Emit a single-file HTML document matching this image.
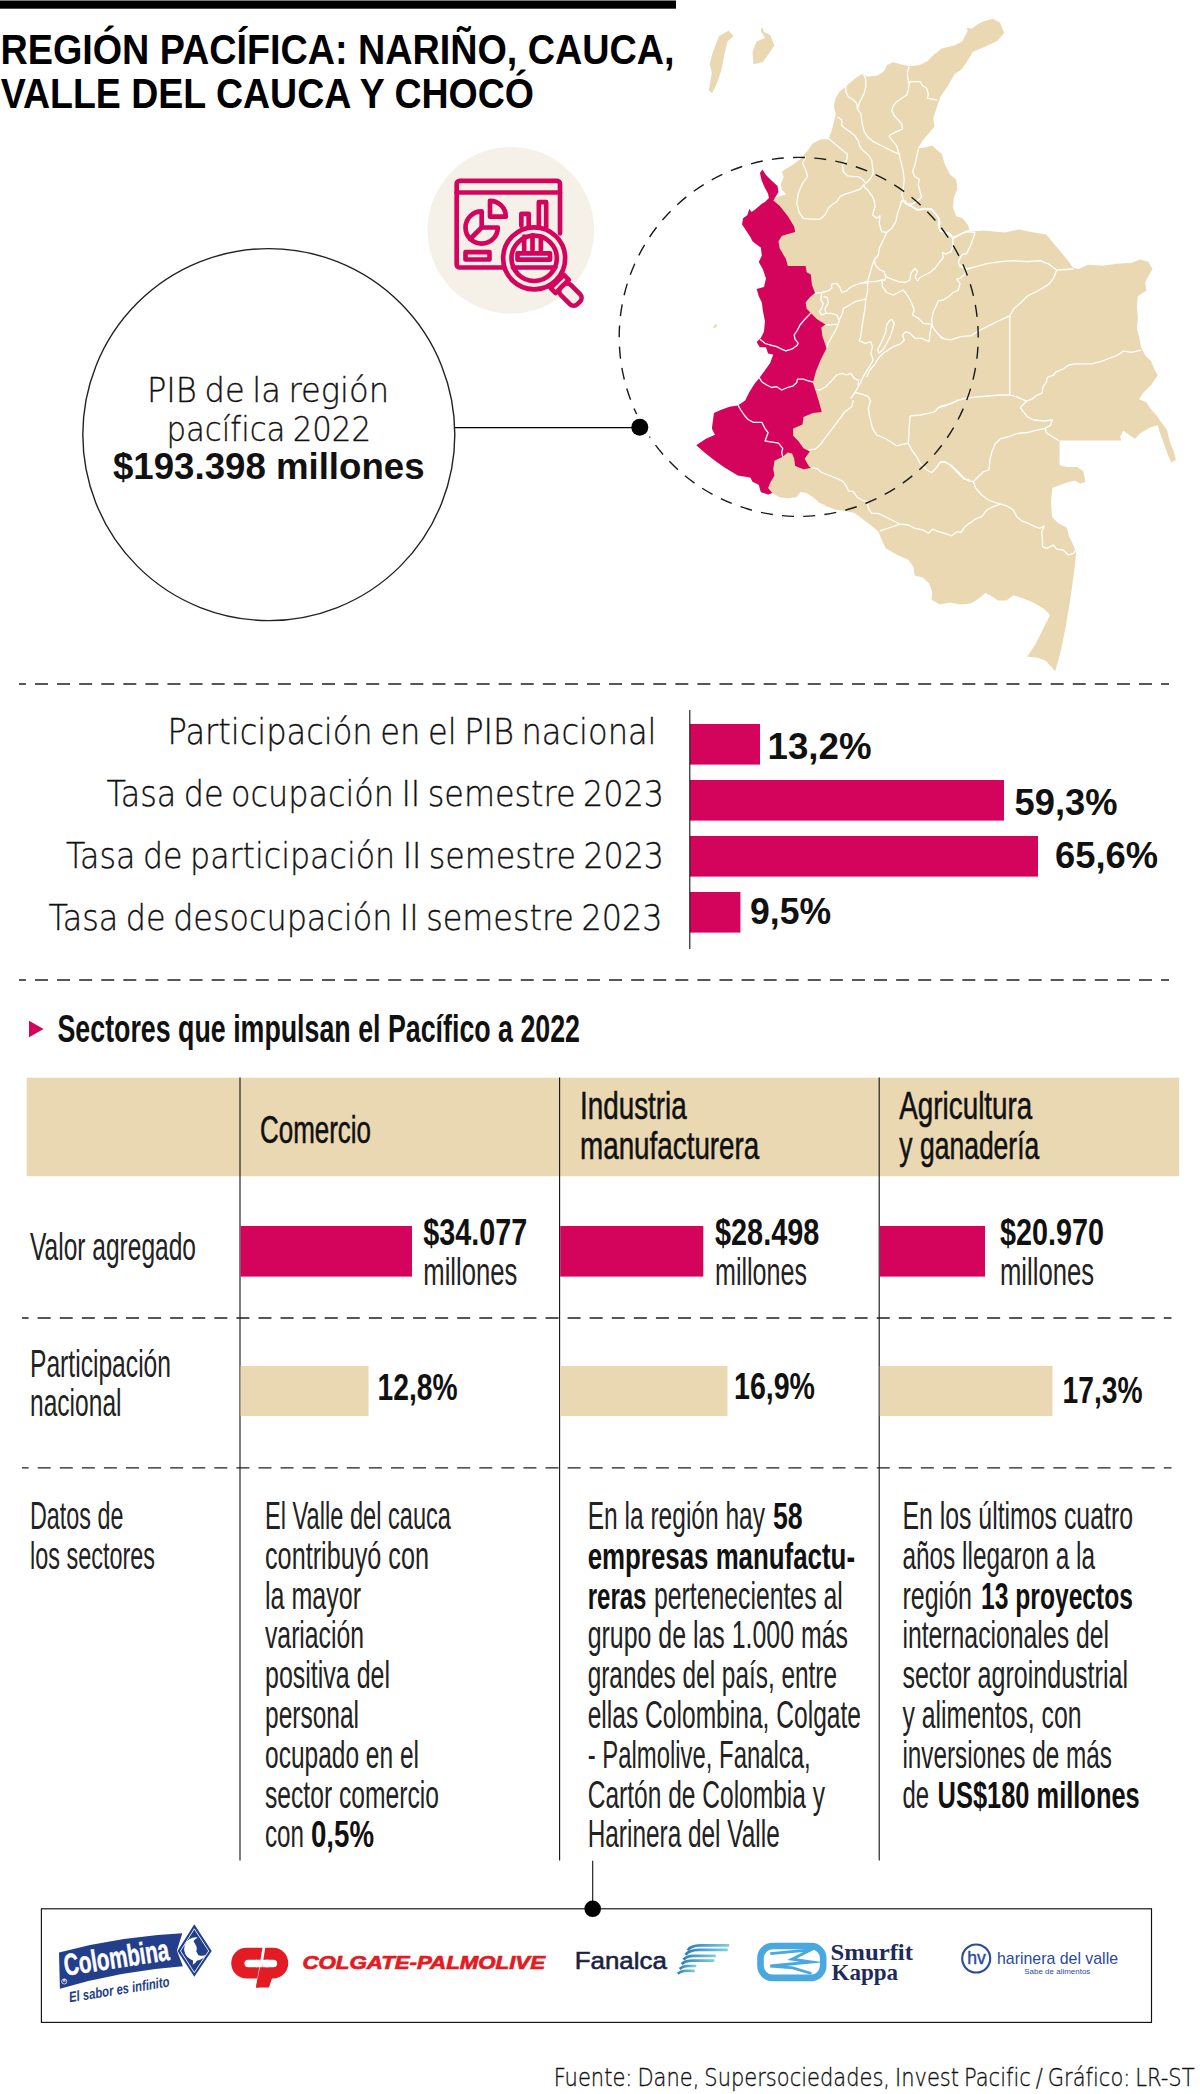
<!DOCTYPE html>
<html lang="es"><head><meta charset="utf-8"><title>Región Pacífica</title>
<style>html,body{margin:0;padding:0;background:#fff}svg{display:block}text{white-space:pre}</style></head>
<body>
<svg width="1200" height="2094" viewBox="0 0 1200 2094">
<rect width="1200" height="2094" fill="#fff"/>
<rect x="0" y="0.5" width="676" height="8.2" fill="#000"/>
<text x="0.5" y="64.3" font-size="42" font-family="Liberation Sans, sans-serif" font-weight="bold" fill="#000" textLength="674.0" lengthAdjust="spacingAndGlyphs" >REGIÓN PACÍFICA: NARIÑO, CAUCA,</text>
<text x="0.7" y="108.4" font-size="42" font-family="Liberation Sans, sans-serif" font-weight="bold" fill="#000" textLength="533.3" lengthAdjust="spacingAndGlyphs" >VALLE DEL CAUCA Y CHOCÓ</text>
<polygon points="728.5,30.8 733.8,36.0 727.5,41.3 724.4,54.8 721.3,70.4 717.0,83.0 711.9,93.3 708.8,90.2 711.9,72.5 709.8,64.2 712.9,51.7 719.2,36.0" fill="#e9d8b2"/>
<polygon points="761.9,26.7 764.0,31.9 770.2,35.0 774.4,45.4 768.1,54.8 762.9,62.1 753.5,64.2 752.5,51.7 756.7,41.3 765.0,38.1 760.8,30.8" fill="#e9d8b2"/>
<ellipse cx="715.3" cy="326.2" rx="2.2" ry="1.2" transform="rotate(-45 715.3 326.2)" fill="#e9d8b2"/>
<polygon points="774.4,198.5 779.6,196.0 786.3,194.4 781.7,189.6 780.8,184.0 783.8,176.7 781.7,172.1 784.8,169.4 792.1,165.2 800.4,159.0 806.7,151.7 812.9,143.3 821.3,139.2 828.5,139.2 831.7,130.8 833.8,122.5 835.8,114.2 833.8,105.8 835.8,97.5 840.0,91.3 845.2,87.1 854.6,78.8 862.9,73.5 867.1,76.7 877.5,75.6 883.8,71.5 886.9,65.2 893.1,62.1 900.4,64.2 908.8,66.3 919.2,65.2 927.5,61.0 933.8,54.8 941.7,48.5 954.2,45.4 962.5,41.3 967.7,30.8 966.7,27.7 971.9,28.8 977.1,24.6 983.3,21.5 992.7,18.8 1000.0,22.5 1004.2,32.9 996.9,41.3 983.3,47.5 972.9,51.7 966.7,62.1 961.5,69.4 954.2,74.6 947.9,86.0 940.6,96.5 936.5,107.9 933.3,118.3 934.4,126.7 929.2,132.9 922.9,140.2 917.7,148.5 925.0,147.5 932.3,145.4 936.5,149.6 941.7,153.8 944.8,164.2 950.0,174.6 956.3,179.8 957.3,189.2 953.8,197.5 953.1,207.9 956.3,216.3 962.5,218.3 967.7,224.6 970.2,231.5 983.8,230.4 1004.6,232.5 1019.2,229.4 1033.8,232.5 1046.3,234.6 1056.7,247.1 1067.1,259.6 1073.3,267.9 1078.5,269.0 1087.9,264.8 1102.5,265.8 1117.1,263.8 1131.7,262.7 1140.0,259.6 1148.3,261.7 1152.5,269.0 1148.3,276.3 1145.2,282.5 1146.3,290.8 1137.9,296.0 1136.9,307.5 1137.9,317.9 1136.9,328.3 1139.0,336.7 1141.0,347.1 1145.2,355.4 1151.5,361.7 1154.6,370.0 1157.7,375.2 1151.5,384.6 1143.1,392.9 1139.0,399.2 1146.3,402.3 1150.4,408.5 1156.7,415.8 1161.9,423.1 1167.0,430.0 1169.5,440.8 1173.5,451.3 1176.0,459.6 1171.3,462.7 1168.1,455.4 1164.0,444.0 1159.8,432.5 1157.7,425.2 1150.4,427.3 1140.0,433.5 1134.8,438.8 1128.5,434.6 1123.3,430.4 1120.2,436.7 1121.3,440.4 1059.6,440.6 1059.4,465.0 1066.7,467.1 1077.1,467.1 1083.3,471.3 1085.4,481.7 1080.2,483.8 1075.0,480.6 1066.7,482.7 1058.3,485.8 1052.1,487.9 1051.0,502.5 1052.1,517.1 1058.3,523.3 1066.7,527.5 1068.8,535.8 1072.9,544.2 1076.0,552.5 1075.0,565.0 1070.8,596.3 1065.6,627.5 1060.4,652.5 1055.2,671.3 1045.8,660.8 1037.5,657.7 1027.1,656.7 1035.4,644.2 1043.8,627.5 1050.0,615.0 1043.8,608.8 1033.3,602.5 1022.9,598.3 1013.5,595.2 1006.3,600.4 997.9,600.4 991.7,596.3 985.4,593.1 979.2,598.3 970.8,603.5 960.4,604.6 950.0,602.5 939.6,604.6 931.3,599.4 932.3,592.1 929.2,583.8 922.9,577.5 914.6,575.4 913.5,567.1 908.3,559.8 896.3,554.6 885.8,548.3 881.7,540.0 878.5,531.7 871.3,525.4 862.9,519.2 854.6,512.9 844.2,510.8 835.8,509.8 827.5,506.7 819.2,502.5 812.9,497.3 806.7,493.1 800.4,492.1 796.3,497.3 787.9,498.3 779.6,497.3 772.3,493.1 772.3,493.1 768.1,494.6 760.8,492.1 758.8,484.8 752.5,481.7 750.4,477.5 737.9,475.4 725.4,468.1 715.0,460.8 704.6,452.5 696.3,445.2 705.6,439.0 715.0,434.8 711.9,428.5 712.9,421.3 714.0,412.9 721.3,409.8 729.6,406.7 737.9,405.6 745.2,400.4 749.4,392.1 754.6,383.8 759.8,377.5 765.0,370.2 770.2,362.9 773.3,354.6 768.1,353.5 766.0,347.3 759.8,347.3 756.7,342.1 760.8,337.9 764.0,331.7 765.0,321.3 762.9,310.8 761.9,302.5 758.8,296.3 756.7,289.0 764.0,286.9 766.0,278.5 762.9,269.2 758.8,261.9 761.9,255.6 760.8,247.5 756.7,244.4 752.5,241.3 750.4,237.1 746.3,230.8 742.1,224.6 743.1,218.3 747.3,215.2 749.4,209.0 751.5,212.1 754.6,210.0 761.9,203.8 765.0,202.0 769.0,198.0 768.0,193.5 764.5,187.0 761.5,180.0 760.0,173.0 762.4,169.6" fill="#e9d8b2"/>
<polyline points="805.8,156.7 802.5,163.3 805.8,170.0 807.5,176.7 802.5,183.3 798.3,193.3 796.7,203.3 799.2,212.5 803.3,218.3 811.7,219.2 820.0,219.2 825.0,215.0 828.3,208.3 832.5,204.2 836.7,201.7 840.0,196.7 845.0,194.2 853.3,191.7 860.0,189.2 864.2,184.2" fill="none" stroke="#fff" stroke-width="1.3" stroke-linejoin="round"/>
<polyline points="828.3,138.3 833.3,142.5 838.3,146.7 843.3,150.8 847.5,154.2 846.7,160.0 842.5,165.0 843.3,171.7 847.5,175.8 853.3,176.7 858.3,176.7 862.5,179.2 865.8,183.3" fill="none" stroke="#fff" stroke-width="1.3" stroke-linejoin="round"/>
<polyline points="837.5,116.7 841.7,120.0 841.7,125.8 845.0,128.3 850.0,131.7 855.0,135.8 858.3,140.8 860.0,146.7 863.3,150.8 868.3,155.0 871.7,160.0 872.5,166.7 873.3,173.3 870.0,179.2 865.8,183.3" fill="none" stroke="#fff" stroke-width="1.3" stroke-linejoin="round"/>
<polyline points="845.8,85.8 845.8,91.7 848.3,96.7 853.3,100.0 856.7,103.3 857.5,109.2 860.8,113.3 861.7,120.0 862.5,125.0 864.2,131.7 867.5,136.7 873.3,141.7 880.0,145.0 886.7,148.3 893.3,151.7 899.2,154.2 900.0,158.3 901.7,165.0 903.3,171.7 904.2,180.0 903.3,188.3 901.7,195.0 903.3,200.0 905.0,203.3" fill="none" stroke="#fff" stroke-width="1.3" stroke-linejoin="round"/>
<polyline points="863.3,73.3 865.8,79.2 865.8,86.7 864.2,93.3 861.7,98.3 859.2,103.3 857.5,109.2" fill="none" stroke="#fff" stroke-width="1.3" stroke-linejoin="round"/>
<polyline points="909.2,66.7 907.5,71.7 907.5,77.5 909.2,83.3 908.3,90.0 906.7,95.0 901.7,98.3 896.7,101.7 893.3,105.8 891.7,110.8 894.2,115.8 898.3,120.0 901.7,124.2 902.5,129.2 896.7,131.7 890.0,135.0 889.2,136.7 892.5,140.8 896.7,145.8 899.2,154.2" fill="none" stroke="#fff" stroke-width="1.3" stroke-linejoin="round"/>
<polyline points="907.5,82.5 913.3,81.7 920.0,81.7 922.5,85.8 926.7,88.3 928.3,94.2 927.5,98.3 932.5,99.2 936.7,100.0" fill="none" stroke="#fff" stroke-width="1.3" stroke-linejoin="round"/>
<polyline points="918.3,149.2 916.7,156.7 915.0,165.0 912.5,171.7 915.0,176.7 919.2,179.2 918.3,185.0 920.0,191.7 921.7,196.7 916.7,201.7 911.7,204.2 905.0,203.3" fill="none" stroke="#fff" stroke-width="1.3" stroke-linejoin="round"/>
<polyline points="905.0,203.3 911.7,206.7 916.7,210.0 925.0,208.3 931.7,210.0 936.7,215.0 940.0,221.7 939.2,228.3 943.3,231.7 950.0,233.3 953.3,238.3 952.5,248.3" fill="none" stroke="#fff" stroke-width="1.3" stroke-linejoin="round"/>
<polyline points="953.3,238.3 960.0,235.0 965.0,231.7 970.0,230.0" fill="none" stroke="#fff" stroke-width="1.3" stroke-linejoin="round"/>
<polyline points="864.2,184.2 864.2,186.7 868.3,190.8 872.5,196.7 875.0,202.5" fill="none" stroke="#fff" stroke-width="1.3" stroke-linejoin="round"/>
<polyline points="903.3,200.0 902.0,202.5" fill="none" stroke="#fff" stroke-width="1.3" stroke-linejoin="round"/>
<polyline points="959.8,264.8 967.1,269.0 975.4,266.9 985.8,263.8 1000.4,261.7 1012.9,260.6 1027.5,261.7 1040.0,260.6 1048.3,263.8 1056.7,270.0 1073.3,269.0" fill="none" stroke="#fff" stroke-width="1.3" stroke-linejoin="round"/>
<polyline points="1056.7,270.0 1053.5,278.3 1048.3,284.6 1037.9,290.8 1027.5,296.0 1021.2,302.3 1014.0,308.5 1009.8,315.8 998.3,321.0 987.9,326.2 977.5,331.5 971.2,335.6 960.8,336.7 950.4,339.8 944.2,338.8 940.0,336.7" fill="none" stroke="#fff" stroke-width="1.3" stroke-linejoin="round"/>
<polyline points="1009.8,315.8 1009.8,395.0" fill="none" stroke="#fff" stroke-width="1.3" stroke-linejoin="round"/>
<polyline points="1141.0,350.2 1131.7,352.3 1123.3,351.2 1117.1,355.4 1108.8,358.5 1100.4,361.7 1092.1,363.8 1083.8,363.8 1075.4,363.8 1069.2,364.8 1062.9,369.0 1055.6,372.1 1053.5,375.2 1047.3,377.3 1046.2,382.5 1043.1,386.7 1042.1,392.9 1035.8,396.0 1031.7,399.2 1026.5,401.2 1020.2,407.5" fill="none" stroke="#fff" stroke-width="1.3" stroke-linejoin="round"/>
<polyline points="940.0,406.5 948.3,404.4 958.8,400.2 966.0,398.1 975.4,397.1 987.9,396.0 1000.4,395.0 1009.8,395.0 1017.1,397.1 1026.5,401.2" fill="none" stroke="#fff" stroke-width="1.3" stroke-linejoin="round"/>
<polyline points="1020.2,407.5 1023.3,411.7 1027.5,416.9 1033.8,420.0 1044.2,421.0 1052.5,420.0 1050.4,425.2 1045.2,428.3 1046.2,432.5 1052.5,436.7 1058.8,440.8" fill="none" stroke="#fff" stroke-width="1.3" stroke-linejoin="round"/>
<polyline points="1045.2,428.3 1035.8,430.4 1027.5,432.5 1017.1,433.5 1008.8,436.7 1000.4,438.8 995.2,444.0 992.1,451.2 990.0,459.6 989.0,470.0" fill="none" stroke="#fff" stroke-width="1.3" stroke-linejoin="round"/>
<polyline points="943.3,339.2 937.5,333.3 932.5,326.7 931.7,320.0" fill="none" stroke="#fff" stroke-width="1.3" stroke-linejoin="round"/>
<polyline points="966.7,268.3 964.2,275.0 960.0,278.3 956.7,279.2 960.0,283.3 958.3,290.0 953.3,292.5 948.3,296.7 943.3,300.0 938.3,300.8 935.8,306.7 933.3,311.7 931.7,320.0" fill="none" stroke="#fff" stroke-width="1.3" stroke-linejoin="round"/>
<polyline points="975.0,232.5 973.3,238.3 970.0,246.7 966.7,253.3 961.7,255.0 958.3,261.7 960.0,266.7 966.7,268.3" fill="none" stroke="#fff" stroke-width="1.3" stroke-linejoin="round"/>
<polyline points="905.0,200.0 906.7,204.2 913.3,206.7 918.3,210.0 925.0,209.2 931.7,208.3 935.0,213.3 939.2,218.3 938.3,225.0 940.0,230.8 946.7,233.3 952.5,237.5 956.7,235.8 961.7,233.3 968.3,231.7 975.0,232.5" fill="none" stroke="#fff" stroke-width="1.3" stroke-linejoin="round"/>
<polyline points="952.5,237.5 953.3,245.0 950.8,251.7 945.8,254.2 942.5,252.5 943.3,257.5 940.0,261.7 935.0,268.3 930.0,272.5 925.0,275.0 920.0,277.5 917.5,280.8 915.0,276.7 917.5,271.7 915.0,268.3 910.8,273.3 910.0,280.0 905.0,282.5 898.3,281.7 891.7,279.2 885.8,276.7 884.2,271.7 880.0,270.0 875.8,265.8 874.2,260.0" fill="none" stroke="#fff" stroke-width="1.3" stroke-linejoin="round"/>
<polyline points="874.2,200.0 875.0,206.7 872.5,215.0 876.7,218.3 880.0,215.8 879.2,223.3 881.7,231.7 886.7,232.5 891.7,228.3 895.8,221.7 897.5,213.3 900.0,206.7 901.7,200.0" fill="none" stroke="#fff" stroke-width="1.3" stroke-linejoin="round"/>
<polyline points="886.7,232.5 883.3,240.0 879.2,248.3 878.3,255.0 874.2,260.0 871.7,266.7 870.0,273.3 867.5,281.7 860.0,283.3" fill="none" stroke="#fff" stroke-width="1.3" stroke-linejoin="round"/>
<polyline points="867.5,281.7 875.0,281.7 881.7,280.0 882.5,286.7 886.7,292.5 893.3,295.0 898.3,292.5 903.3,290.0 908.3,296.7 911.7,303.3 914.2,310.0 912.5,315.0 918.3,318.3 923.3,323.3 931.7,324.2" fill="none" stroke="#fff" stroke-width="1.3" stroke-linejoin="round"/>
<polyline points="885.8,276.7 885.0,280.0 881.7,280.0" fill="none" stroke="#fff" stroke-width="1.3" stroke-linejoin="round"/>
<polyline points="891.7,319.2 894.2,323.3 892.5,330.0 890.0,336.7 886.7,343.3 883.3,349.2 879.2,353.3 877.5,350.0 880.0,345.0 883.3,338.3 885.8,331.7 886.7,325.0 889.2,320.8 891.7,319.2" fill="none" stroke="#fff" stroke-width="1.3" stroke-linejoin="round"/>
<polyline points="931.7,324.2 930.0,333.3 929.2,341.7 921.7,338.3 915.0,338.3 910.0,333.3 905.8,331.7 902.5,335.0 904.2,340.0 900.0,344.2 893.3,346.7 888.3,350.0 883.3,353.3 878.3,358.3 875.0,364.2 870.0,370.0 866.7,376.7" fill="none" stroke="#fff" stroke-width="1.3" stroke-linejoin="round"/>
<polyline points="815.0,293.3 821.7,292.5 828.3,290.8 831.7,288.3 831.7,284.2 836.7,283.3 840.0,287.5 841.7,292.5 846.7,290.8 850.0,287.5 855.0,285.0 860.0,283.3 865.0,282.5 869.2,283.3" fill="none" stroke="#fff" stroke-width="1.3" stroke-linejoin="round"/>
<polyline points="821.7,292.5 820.8,300.0 823.3,303.3 821.7,308.3 819.2,311.7 821.7,315.0 825.8,313.3 825.0,308.3 828.3,303.3 827.5,297.5 823.3,296.7" fill="none" stroke="#fff" stroke-width="1.3" stroke-linejoin="round"/>
<polyline points="825.8,313.3 831.7,313.3 836.7,315.0 839.2,320.0 838.3,324.2 825.8,325.0" fill="none" stroke="#fff" stroke-width="1.3" stroke-linejoin="round"/>
<polyline points="839.2,320.0 842.5,313.3 843.3,308.3 848.3,305.8 855.0,301.7 861.7,300.0 865.8,299.2" fill="none" stroke="#fff" stroke-width="1.3" stroke-linejoin="round"/>
<polyline points="838.3,324.2 835.0,331.7 831.7,336.7 828.3,343.3 826.7,348.3" fill="none" stroke="#fff" stroke-width="1.3" stroke-linejoin="round"/>
<polyline points="867.5,281.7 867.5,291.7 865.8,299.2 865.0,308.3 863.3,318.3 861.7,328.3 860.8,336.7 859.2,340.8 865.0,343.3 870.8,341.7 872.5,346.7 870.8,353.3 873.3,360.0 868.3,368.3 863.3,376.7 858.3,386.7 855.0,392.5 850.8,398.3" fill="none" stroke="#fff" stroke-width="1.3" stroke-linejoin="round"/>
<polyline points="814.2,389.2 820.0,390.0 825.8,386.7 831.7,380.8 836.7,375.0 841.7,373.3 846.7,375.0 850.8,373.3 854.2,378.3 858.3,380.0 858.3,386.7" fill="none" stroke="#fff" stroke-width="1.3" stroke-linejoin="round"/>
<polyline points="855.0,392.5 861.7,394.2 868.3,396.7 870.8,401.7" fill="none" stroke="#fff" stroke-width="1.3" stroke-linejoin="round"/>
<polyline points="810.8,467.5 816.7,468.3 821.7,472.5 828.3,475.0 836.7,478.3 843.3,481.7 846.7,486.7 848.3,490.8 853.3,491.7 856.7,496.7 861.7,500.0 867.5,501.7 868.3,508.3 871.7,513.3 878.3,513.3 885.0,516.7 891.7,520.0 900.0,524.2 908.3,525.0 915.0,528.3 923.3,530.0 928.3,533.3 932.5,529.2 938.3,531.7 945.0,533.3 951.7,535.8 956.7,531.7 960.8,532.5 965.0,526.7 970.0,522.5" fill="none" stroke="#fff" stroke-width="1.3" stroke-linejoin="round"/>
<polyline points="880.0,530.8 890.0,527.5 900.0,524.2" fill="none" stroke="#fff" stroke-width="1.3" stroke-linejoin="round"/>
<polyline points="853.3,400.0 851.7,406.7 845.0,411.7 840.0,418.3 835.0,425.0 830.0,431.7 825.0,438.3 820.0,445.0 815.0,449.2 808.3,450.0" fill="none" stroke="#fff" stroke-width="1.3" stroke-linejoin="round"/>
<polyline points="870.8,400.0 868.3,408.3 870.0,418.3 872.5,428.3 876.7,435.0 885.0,438.3 891.7,442.5 896.7,445.8 903.3,444.2 908.3,443.3" fill="none" stroke="#fff" stroke-width="1.3" stroke-linejoin="round"/>
<polyline points="910.0,415.8 909.2,428.3 908.3,443.3 911.7,450.0 916.7,456.7 920.8,464.2 926.7,470.0 931.7,472.5 935.8,468.3 940.0,462.5 944.2,461.7 950.0,465.0 955.0,470.0 960.0,475.0 964.2,479.2 970.0,480.0" fill="none" stroke="#fff" stroke-width="1.3" stroke-linejoin="round"/>
<polyline points="910.0,415.8 920.0,415.0 928.3,413.3 935.0,411.7 938.3,407.5 945.0,405.8 951.7,403.3 958.3,400.0" fill="none" stroke="#fff" stroke-width="1.3" stroke-linejoin="round"/>
<polyline points="989.0,470.0 983.3,471.7 978.3,476.7 973.3,481.7" fill="none" stroke="#fff" stroke-width="1.3" stroke-linejoin="round"/>
<polyline points="940.0,461.7 945.0,461.7 951.7,465.8 958.3,471.7 963.3,477.5 968.3,480.8 973.3,481.7" fill="none" stroke="#fff" stroke-width="1.3" stroke-linejoin="round"/>
<polyline points="973.3,481.7 975.8,488.3 981.7,495.0 988.3,500.0 995.0,502.5 1000.8,504.2 1006.7,505.8 1013.3,510.0 1016.7,516.7 1021.7,520.8 1028.3,523.3 1035.0,526.7 1040.0,528.3 1044.2,525.8 1041.7,531.7 1042.5,540.0 1042.5,546.7 1046.7,548.3 1053.3,545.0 1056.7,549.2 1063.3,550.0 1068.3,555.0 1073.3,553.3 1075.3,550.8" fill="none" stroke="#fff" stroke-width="1.3" stroke-linejoin="round"/>
<polyline points="1000.8,504.2 993.3,506.7 986.7,510.0 981.7,516.7 975.0,519.2 970.0,523.3" fill="none" stroke="#fff" stroke-width="1.3" stroke-linejoin="round"/>
<polygon points="762.4,169.6 766.0,175.0 772.0,181.0 777.5,186.0 778.5,192.0 775.5,197.0 773.3,200.6 779.6,205.8 787.9,216.3 794.2,226.7 795.2,231.9 787.9,234.0 781.7,236.0 778.5,241.3 779.6,248.3 785.8,258.8 787.9,266.0 805.6,266.0 806.7,272.3 810.8,274.4 811.9,284.8 815.0,293.1 809.8,297.3 805.6,302.5 806.7,308.8 810.8,312.9 817.1,319.2 825.4,324.4 821.3,327.5 822.3,335.8 826.5,348.3 820.2,360.8 816.0,371.3 812.9,382.7 816.0,392.1 819.2,402.5 821.7,411.9 812.9,412.9 803.5,417.1 802.5,424.4 793.1,428.5 793.1,435.8 798.3,441.0 803.5,448.3 809.8,451.5 804.6,458.8 808.8,466.0 810.8,468.1 803.5,469.2 795.2,466.0 794.2,458.8 792.1,453.5 787.9,452.5 782.7,456.7 774.4,460.8 773.3,469.2 774.4,475.4 770.2,482.7 768.1,487.9 772.3,493.1 772.3,493.1 768.1,494.6 760.8,492.1 758.8,484.8 752.5,481.7 750.4,477.5 737.9,475.4 725.4,468.1 715.0,460.8 704.6,452.5 696.3,445.2 705.6,439.0 715.0,434.8 711.9,428.5 712.9,421.3 714.0,412.9 721.3,409.8 729.6,406.7 737.9,405.6 745.2,400.4 749.4,392.1 754.6,383.8 759.8,377.5 765.0,370.2 770.2,362.9 773.3,354.6 768.1,353.5 766.0,347.3 759.8,347.3 756.7,342.1 760.8,337.9 764.0,331.7 765.0,321.3 762.9,310.8 761.9,302.5 758.8,296.3 756.7,289.0 764.0,286.9 766.0,278.5 762.9,269.2 758.8,261.9 761.9,255.6 760.8,247.5 756.7,244.4 752.5,241.3 750.4,237.1 746.3,230.8 742.1,224.6 743.1,218.3 747.3,215.2 749.4,209.0 751.5,212.1 754.6,210.0 761.9,203.8 765.0,202.0 769.0,198.0 768.0,193.5 764.5,187.0 761.5,180.0 760.0,173.0 762.4,169.6" fill="#d4045d"/>
<polyline points="760.0,339.2 765.0,343.3 770.0,345.0 776.7,346.7 781.7,349.2 785.8,350.8 791.7,349.2 796.7,345.8 798.3,343.3 795.0,339.2 794.2,335.0 797.5,330.0 800.0,325.0 804.2,320.0 808.3,315.8 810.8,312.8" fill="none" stroke="#fff" stroke-width="1.3" stroke-linejoin="round"/>
<polyline points="759.2,377.5 761.7,381.7 766.7,385.0 771.7,387.5 776.7,386.7 781.7,390.0 787.5,387.5 793.3,385.8 796.7,382.5 797.5,379.2 803.3,379.2 808.3,380.8 813.3,382.0" fill="none" stroke="#fff" stroke-width="1.3" stroke-linejoin="round"/>
<polyline points="737.9,405.0 740.8,410.0 744.2,415.0 748.0,419.5 753.5,422.3 761.9,422.3 765.0,428.5 768.1,432.7 765.0,441.0 772.3,442.1 778.5,443.1 782.7,448.3 781.7,452.5 782.7,456.7" fill="none" stroke="#fff" stroke-width="1.3" stroke-linejoin="round"/>
<circle cx="798.7" cy="336.9" r="179.5" fill="none" stroke="#1a1a1a" stroke-width="1.4" stroke-dasharray="12 9.28" stroke-dashoffset="11.35"/>
<circle cx="639.8" cy="427.3" r="13.5" fill="#fff"/>
<circle cx="510.8" cy="230.3" r="83.3" fill="#f6f1e8"/>
<g transform="translate(410 130) scale(0.166667)" fill="none" stroke="#d4045d" stroke-width="28" stroke-linejoin="round" stroke-linecap="round">
<path d="M560,825 H298 a18,18 0 0 1 -18,-18 V323 a18,18 0 0 1 18,-18 H882 a18,18 0 0 1 18,18 V620"/>
<path d="M280,375 H900"/>
<path d="M430,488 A97,97 0 1 0 527,585 L430,585 Z"/>
<path d="M430,585 L361,654"/>
<path d="M480,425 A95,95 0 0 1 575,520 L480,520 Z"/>
<path d="M668,575 V503 H712 V575"/>
<path d="M773,575 V433 H817 V585"/>
<rect x="333" y="733" width="144" height="44"/>
<g transform="translate(745 770) rotate(45)">
<rect x="196" y="-56" width="42" height="112" fill="#f6f1e8"/>
<rect x="238" y="-43" width="140" height="86" rx="32" fill="#f6f1e8"/>
</g>
<circle cx="745" cy="770" r="186" fill="#f6f1e8"/>
<circle cx="745" cy="770" r="136"/>
<path d="M685,640 V720 M735,632 V720 M785,640 V720"/>
<rect x="645" y="740" width="195" height="38"/>
<path d="M618,825 H872"/>
</g>

<circle cx="268.8" cy="434.6" r="186" fill="#fff" stroke="#222" stroke-width="1.4"/>
<line x1="455" y1="427.6" x2="639" y2="427.6" stroke="#000" stroke-width="1.25"/>
<circle cx="639.8" cy="427.3" r="8.5" fill="#000"/>
<text x="147" y="401.5" font-size="34.5" font-family="DejaVu Sans, Liberation Sans, sans-serif" font-weight="200" stroke="#111" stroke-width="0.35" word-spacing="-0.08em" fill="#111" textLength="242.0" lengthAdjust="spacingAndGlyphs" >PIB de la región</text>
<text x="166.5" y="441" font-size="34.5" font-family="DejaVu Sans, Liberation Sans, sans-serif" font-weight="200" stroke="#111" stroke-width="0.35" word-spacing="-0.08em" fill="#111" textLength="204.5" lengthAdjust="spacingAndGlyphs" >pacífica 2022</text>
<text x="113" y="479" font-size="37" font-family="Liberation Sans, sans-serif" font-weight="bold" fill="#111" textLength="311.5" lengthAdjust="spacingAndGlyphs" >$193.398 millones</text>
<line x1="19" y1="684" x2="1169" y2="684" stroke="#1f1f1f" stroke-width="1.3" stroke-dasharray="13 9.08" stroke-dashoffset="6.08"/>
<text x="167.5" y="744" font-size="35" font-family="DejaVu Sans, Liberation Sans, sans-serif" font-weight="200" stroke="#111" stroke-width="0.35" word-spacing="-0.08em" fill="#111" textLength="489.0" lengthAdjust="spacingAndGlyphs" >Participación en el PIB nacional</text>
<text x="106.5" y="806" font-size="35" font-family="DejaVu Sans, Liberation Sans, sans-serif" font-weight="200" stroke="#111" stroke-width="0.35" word-spacing="-0.08em" fill="#111" textLength="557.5" lengthAdjust="spacingAndGlyphs" >Tasa de ocupación II semestre 2023</text>
<text x="66" y="867.5" font-size="35" font-family="DejaVu Sans, Liberation Sans, sans-serif" font-weight="200" stroke="#111" stroke-width="0.35" word-spacing="-0.08em" fill="#111" textLength="598.0" lengthAdjust="spacingAndGlyphs" >Tasa de participación II semestre 2023</text>
<text x="48.5" y="929.5" font-size="35" font-family="DejaVu Sans, Liberation Sans, sans-serif" font-weight="200" stroke="#111" stroke-width="0.35" word-spacing="-0.08em" fill="#111" textLength="614.0" lengthAdjust="spacingAndGlyphs" >Tasa de desocupación II semestre 2023</text>
<rect x="690" y="724" width="70" height="40.6" fill="#d4045d"/>
<text x="767.5" y="759" font-size="37.7" font-family="Liberation Sans, sans-serif" font-weight="bold" fill="#111" textLength="104.0" lengthAdjust="spacingAndGlyphs" >13,2%</text>
<rect x="690" y="780" width="314" height="40.6" fill="#d4045d"/>
<text x="1014.6" y="814.6" font-size="37.7" font-family="Liberation Sans, sans-serif" font-weight="bold" fill="#111" textLength="102.9" lengthAdjust="spacingAndGlyphs" >59,3%</text>
<rect x="690" y="836" width="348" height="40.6" fill="#d4045d"/>
<text x="1055" y="868" font-size="37.7" font-family="Liberation Sans, sans-serif" font-weight="bold" fill="#111" textLength="103.0" lengthAdjust="spacingAndGlyphs" >65,6%</text>
<rect x="690" y="892" width="50.39999999999998" height="40.6" fill="#d4045d"/>
<text x="750" y="924" font-size="37.7" font-family="Liberation Sans, sans-serif" font-weight="bold" fill="#111" textLength="81.0" lengthAdjust="spacingAndGlyphs" >9,5%</text>
<line x1="689.8" y1="710" x2="689.8" y2="949" stroke="#111" stroke-width="1.1"/>
<line x1="19" y1="980" x2="1169" y2="980" stroke="#1f1f1f" stroke-width="1.3" stroke-dasharray="13 9.08" stroke-dashoffset="6.08"/>
<polygon points="29,1020.8 43.6,1029 29,1037.2" fill="#d4045d"/>
<text x="57.5" y="1041.5" font-size="39.2" font-family="Liberation Sans, sans-serif" font-weight="bold" fill="#111" textLength="522.5" lengthAdjust="spacingAndGlyphs" >Sectores que impulsan el Pacífico a 2022</text>
<rect x="26.7" y="1077.7" width="1152.5" height="98.5" fill="#e9d8b2"/>
<line x1="240" y1="1077.5" x2="240" y2="1860.5" stroke="#111" stroke-width="1.1"/>
<line x1="559.6" y1="1077.5" x2="559.6" y2="1860.5" stroke="#111" stroke-width="1.1"/>
<line x1="879.2" y1="1077.5" x2="879.2" y2="1860.5" stroke="#111" stroke-width="1.1"/>
<text x="260" y="1143.2" font-size="38.5" font-family="Liberation Sans, sans-serif" stroke="#111" stroke-width="0.55" fill="#111" textLength="111.0" lengthAdjust="spacingAndGlyphs" >Comercio</text>
<text x="580" y="1119.3" font-size="38.5" font-family="Liberation Sans, sans-serif" stroke="#111" stroke-width="0.55" fill="#111" textLength="106.7" lengthAdjust="spacingAndGlyphs" >Industria</text>
<text x="580" y="1159.3" font-size="38.5" font-family="Liberation Sans, sans-serif" stroke="#111" stroke-width="0.55" fill="#111" textLength="179.3" lengthAdjust="spacingAndGlyphs" >manufacturera</text>
<text x="899.3" y="1119.3" font-size="38.5" font-family="Liberation Sans, sans-serif" stroke="#111" stroke-width="0.55" fill="#111" textLength="133.0" lengthAdjust="spacingAndGlyphs" >Agricultura</text>
<text x="899.3" y="1159.3" font-size="38.5" font-family="Liberation Sans, sans-serif" stroke="#111" stroke-width="0.55" fill="#111" textLength="140.0" lengthAdjust="spacingAndGlyphs" >y ganadería</text>
<text x="30" y="1260" font-size="38.5" font-family="Liberation Sans, sans-serif" fill="#222" textLength="166.0" lengthAdjust="spacingAndGlyphs" >Valor agregado</text>
<rect x="240.6" y="1226" width="171.4" height="50.6" fill="#d4045d"/>
<text x="423.3" y="1245" font-size="37.7" font-family="Liberation Sans, sans-serif" font-weight="bold" fill="#111" textLength="104.0" lengthAdjust="spacingAndGlyphs" >$34.077</text>
<text x="423.3" y="1285" font-size="38" font-family="Liberation Sans, sans-serif" fill="#222" textLength="94.0" lengthAdjust="spacingAndGlyphs" >millones</text>
<rect x="560.2" y="1226" width="143.0999999999999" height="50.6" fill="#d4045d"/>
<text x="715" y="1245" font-size="37.7" font-family="Liberation Sans, sans-serif" font-weight="bold" fill="#111" textLength="104.3" lengthAdjust="spacingAndGlyphs" >$28.498</text>
<text x="715" y="1285" font-size="38" font-family="Liberation Sans, sans-serif" fill="#222" textLength="92.0" lengthAdjust="spacingAndGlyphs" >millones</text>
<rect x="879.8" y="1226" width="105.20000000000005" height="50.6" fill="#d4045d"/>
<text x="1000" y="1245" font-size="37.7" font-family="Liberation Sans, sans-serif" font-weight="bold" fill="#111" textLength="104.0" lengthAdjust="spacingAndGlyphs" >$20.970</text>
<text x="1000" y="1285" font-size="38" font-family="Liberation Sans, sans-serif" fill="#222" textLength="94.0" lengthAdjust="spacingAndGlyphs" >millones</text>
<line x1="22" y1="1318" x2="1171.5" y2="1318" stroke="#1f1f1f" stroke-width="1.3" stroke-dasharray="13 9.08" stroke-dashoffset="6.4"/>
<text x="30" y="1376.5" font-size="38.5" font-family="Liberation Sans, sans-serif" fill="#222" textLength="141.0" lengthAdjust="spacingAndGlyphs" >Participación</text>
<text x="30" y="1416" font-size="38.5" font-family="Liberation Sans, sans-serif" fill="#222" textLength="91.5" lengthAdjust="spacingAndGlyphs" >nacional</text>
<rect x="240.6" y="1366" width="127.9" height="50" fill="#e9d8b2"/>
<text x="377.5" y="1400" font-size="37.7" font-family="Liberation Sans, sans-serif" font-weight="bold" fill="#111" textLength="80.0" lengthAdjust="spacingAndGlyphs" >12,8%</text>
<rect x="560.2" y="1366" width="167.29999999999995" height="50" fill="#e9d8b2"/>
<text x="734" y="1399" font-size="37.7" font-family="Liberation Sans, sans-serif" font-weight="bold" fill="#111" textLength="81.0" lengthAdjust="spacingAndGlyphs" >16,9%</text>
<rect x="879.8" y="1366" width="172.70000000000005" height="50" fill="#e9d8b2"/>
<text x="1062.5" y="1402.5" font-size="37.7" font-family="Liberation Sans, sans-serif" font-weight="bold" fill="#111" textLength="80.0" lengthAdjust="spacingAndGlyphs" >17,3%</text>
<line x1="22" y1="1467.8" x2="1171.5" y2="1467.8" stroke="#1f1f1f" stroke-width="1.3" stroke-dasharray="13 9.08" stroke-dashoffset="6.4"/>
<text x="30" y="1529" font-size="38.5" font-family="Liberation Sans, sans-serif" fill="#222" textLength="93.5" lengthAdjust="spacingAndGlyphs" >Datos de</text>
<text x="30" y="1569" font-size="38.5" font-family="Liberation Sans, sans-serif" fill="#222" textLength="125.0" lengthAdjust="spacingAndGlyphs" >los sectores</text>
<text x="265" y="1529.0" font-size="38" font-family="Liberation Sans, sans-serif" fill="#222" textLength="186.0" lengthAdjust="spacingAndGlyphs" >El Valle del cauca</text>
<text x="265" y="1568.8" font-size="38" font-family="Liberation Sans, sans-serif" fill="#222" textLength="164.0" lengthAdjust="spacingAndGlyphs" >contribuyó con</text>
<text x="265" y="1608.6" font-size="38" font-family="Liberation Sans, sans-serif" fill="#222" textLength="96.0" lengthAdjust="spacingAndGlyphs" >la mayor</text>
<text x="265" y="1648.4" font-size="38" font-family="Liberation Sans, sans-serif" fill="#222" textLength="99.0" lengthAdjust="spacingAndGlyphs" >variación</text>
<text x="265" y="1688.2" font-size="38" font-family="Liberation Sans, sans-serif" fill="#222" textLength="125.0" lengthAdjust="spacingAndGlyphs" >positiva del</text>
<text x="265" y="1728.0" font-size="38" font-family="Liberation Sans, sans-serif" fill="#222" textLength="94.0" lengthAdjust="spacingAndGlyphs" >personal</text>
<text x="265" y="1767.8" font-size="38" font-family="Liberation Sans, sans-serif" fill="#222" textLength="154.0" lengthAdjust="spacingAndGlyphs" >ocupado en el</text>
<text x="265" y="1807.6" font-size="38" font-family="Liberation Sans, sans-serif" fill="#222" textLength="174.0" lengthAdjust="spacingAndGlyphs" >sector comercio</text>
<text x="265" y="1847.4" font-size="38" font-family="Liberation Sans, sans-serif" fill="#222" textLength="39.0" lengthAdjust="spacingAndGlyphs" >con</text>
<text x="311" y="1847.4" font-size="37.5" font-family="Liberation Sans, sans-serif" font-weight="bold" fill="#111" textLength="63.0" lengthAdjust="spacingAndGlyphs" >0,5%</text>
<text x="587.7" y="1529.0" font-size="38" font-family="Liberation Sans, sans-serif" fill="#222" textLength="177.3" lengthAdjust="spacingAndGlyphs" >En la región hay</text>
<text x="773" y="1529.0" font-size="37.5" font-family="Liberation Sans, sans-serif" font-weight="bold" fill="#111" textLength="29.7" lengthAdjust="spacingAndGlyphs" >58</text>
<text x="587.7" y="1568.8" font-size="37.5" font-family="Liberation Sans, sans-serif" font-weight="bold" fill="#111" textLength="267.3" lengthAdjust="spacingAndGlyphs" >empresas manufactu-</text>
<text x="587.7" y="1608.6" font-size="37.5" font-family="Liberation Sans, sans-serif" font-weight="bold" fill="#111" textLength="58.8" lengthAdjust="spacingAndGlyphs" >reras</text>
<text x="654" y="1608.6" font-size="38" font-family="Liberation Sans, sans-serif" fill="#222" textLength="188.7" lengthAdjust="spacingAndGlyphs" >pertenecientes al</text>
<text x="587.7" y="1648.4" font-size="38" font-family="Liberation Sans, sans-serif" fill="#222" textLength="260.3" lengthAdjust="spacingAndGlyphs" >grupo de las 1.000 más</text>
<text x="587.7" y="1688.2" font-size="38" font-family="Liberation Sans, sans-serif" fill="#222" textLength="249.3" lengthAdjust="spacingAndGlyphs" >grandes del país, entre</text>
<text x="587.7" y="1728.0" font-size="38" font-family="Liberation Sans, sans-serif" fill="#222" textLength="273.3" lengthAdjust="spacingAndGlyphs" >ellas Colombina, Colgate</text>
<text x="587.7" y="1767.8" font-size="38" font-family="Liberation Sans, sans-serif" fill="#222" textLength="223.0" lengthAdjust="spacingAndGlyphs" >- Palmolive, Fanalca,</text>
<text x="587.7" y="1807.6" font-size="38" font-family="Liberation Sans, sans-serif" fill="#222" textLength="237.3" lengthAdjust="spacingAndGlyphs" >Cartón de Colombia y</text>
<text x="587.7" y="1847.4" font-size="38" font-family="Liberation Sans, sans-serif" fill="#222" textLength="192.0" lengthAdjust="spacingAndGlyphs" >Harinera del Valle</text>
<text x="902.4" y="1529.0" font-size="38" font-family="Liberation Sans, sans-serif" fill="#222" textLength="230.6" lengthAdjust="spacingAndGlyphs" >En los últimos cuatro</text>
<text x="902.4" y="1568.8" font-size="38" font-family="Liberation Sans, sans-serif" fill="#222" textLength="192.6" lengthAdjust="spacingAndGlyphs" >años llegaron a la</text>
<text x="902.4" y="1608.6" font-size="38" font-family="Liberation Sans, sans-serif" fill="#222" textLength="69.6" lengthAdjust="spacingAndGlyphs" >región</text>
<text x="981" y="1608.6" font-size="37.5" font-family="Liberation Sans, sans-serif" font-weight="bold" fill="#111" textLength="152.0" lengthAdjust="spacingAndGlyphs" >13 proyectos</text>
<text x="902.4" y="1648.4" font-size="38" font-family="Liberation Sans, sans-serif" fill="#222" textLength="206.6" lengthAdjust="spacingAndGlyphs" >internacionales del</text>
<text x="902.4" y="1688.2" font-size="38" font-family="Liberation Sans, sans-serif" fill="#222" textLength="225.6" lengthAdjust="spacingAndGlyphs" >sector agroindustrial</text>
<text x="902.4" y="1728.0" font-size="38" font-family="Liberation Sans, sans-serif" fill="#222" textLength="179.2" lengthAdjust="spacingAndGlyphs" >y alimentos, con</text>
<text x="902.4" y="1767.8" font-size="38" font-family="Liberation Sans, sans-serif" fill="#222" textLength="209.6" lengthAdjust="spacingAndGlyphs" >inversiones de más</text>
<text x="902.4" y="1807.6" font-size="38" font-family="Liberation Sans, sans-serif" fill="#222" textLength="26.6" lengthAdjust="spacingAndGlyphs" >de</text>
<text x="937.6" y="1807.6" font-size="37.5" font-family="Liberation Sans, sans-serif" font-weight="bold" fill="#111" textLength="202.1" lengthAdjust="spacingAndGlyphs" >US$180 millones</text>
<line x1="592.7" y1="1860.7" x2="592.7" y2="1908" stroke="#111" stroke-width="1.1"/>
<rect x="41.4" y="1908.8" width="1110.1" height="113.6" fill="#fff" stroke="#111" stroke-width="1.15"/>
<circle cx="592.7" cy="1908.8" r="8.3" fill="#000"/>
<!-- Colombina -->
<g transform="translate(50 1915) scale(0.15)">
<path d="M60,250 Q470,140 882,122 L846,236 L886,342 Q470,372 66,492 Z" fill="#233e8a"/>
<path d="M962,62 L1078,240 L962,412 L850,240 Z" fill="#233e8a"/>
<path d="M962,92 L1058,240 L962,384 L870,240 Z" fill="none" stroke="#fff" stroke-width="6"/>
<path d="M985,150 A78,78 0 1 0 1040,265 A62,62 0 1 1 985,150 Z" fill="#fff"/>
<path d="M935,175 q25,-8 32,18 q18,22 8,50 q22,28 6,58 q-10,22 -30,30 q8,-30 -8,-48 q-20,-22 -10,-52 q-12,-30 2,-56 Z" fill="#fff"/>
<circle cx="95" cy="443" r="17" fill="none" stroke="#fff" stroke-width="5"/>
</g>
<text transform="translate(65.6 1975.8) rotate(-8.7)" font-family="Liberation Sans, sans-serif" font-weight="bold" font-size="30.5" fill="#fff" textLength="106" lengthAdjust="spacingAndGlyphs" stroke="#fff" stroke-width="0.5">Colombina</text>
<text transform="translate(64.3 1981.6)" font-family="Liberation Sans, sans-serif" font-weight="bold" font-size="3.6" fill="#fff" text-anchor="middle">R</text>
<text transform="translate(69.8 2002.3) rotate(-9)" font-family="Liberation Sans, sans-serif" font-weight="bold" font-style="italic" font-size="14.6" fill="#233e8a" textLength="101.5" lengthAdjust="spacingAndGlyphs">El sabor es infinito</text>
<!-- Colgate-Palmolive -->
<g transform="translate(220 1935) scale(0.15)">
<rect x="75" y="85" width="380" height="205" rx="102" fill="#e31b23"/>
<path d="M252,280 L350,280 L326,350 L240,350 Z" fill="#e31b23"/>
<path d="M284,78 L303,78 L268,292 L249,292 Z" fill="#fff"/>
<rect x="163" y="165" width="105" height="50" rx="25" fill="#fff"/>
<rect x="240" y="165" width="30" height="50" fill="#fff"/>
<rect x="285" y="165" width="96" height="50" rx="25" fill="#fff"/>
<rect x="282" y="165" width="40" height="50" fill="#fff"/>
<path d="M266,215 L284,215 L262,350 L240,350 Z" fill="#e31b23"/>
</g>
<text x="302.5" y="1969" font-family="Liberation Sans, sans-serif" font-weight="bold" font-style="italic" font-size="18" fill="#e31b23" textLength="242.5" lengthAdjust="spacingAndGlyphs" stroke="#e31b23" stroke-width="0.7">COLGATE-PALMOLIVE</text>
<!-- Fanalca -->
<text x="574.8" y="1969.3" font-family="Liberation Sans, sans-serif" font-size="23.6" fill="#1b2140" textLength="92" lengthAdjust="spacingAndGlyphs" stroke="#1b2140" stroke-width="0.55">Fanalca</text>
<defs><linearGradient id="fg" x1="0" x2="1" y1="0" y2="0"><stop offset="0" stop-color="#2c7fc0"/><stop offset="1" stop-color="#7fd0dc"/></linearGradient></defs>
<g transform="translate(565 1930) scale(0.15)" fill="none" stroke="url(#fg)" stroke-width="18">
<path d="M818,135 Q840,104 900,103 H1095"/>
<path d="M803,165 Q828,134 890,133 H1085"/>
<path d="M790,197 Q812,170 870,172 H1005"/>
<path d="M778,228 Q800,202 860,204 H995"/>
<path d="M765,260 Q785,238 830,240 H875"/>
<path d="M752,292 Q775,270 820,272 H865"/>
</g>
<!-- Smurfit Kappa -->
<g transform="translate(750 1930) scale(0.15)">
<rect x="70" y="107" width="418" height="212" rx="80" fill="#fff" stroke="#4aa8e0" stroke-width="44"/>
<path d="M135,158 L405,132 L280,195 L410,213 L135,240 L285,252 L410,290" fill="none" stroke="#4aa8e0" stroke-width="19" stroke-linejoin="miter" stroke-miterlimit="10"/>
</g>
<text x="830.5" y="1960" font-family="Liberation Serif, serif" font-weight="bold" font-size="24" fill="#1d2a5b" textLength="82.5" lengthAdjust="spacingAndGlyphs">Smurfit</text>
<text x="831.5" y="1980.3" font-family="Liberation Serif, serif" font-weight="bold" font-size="24" fill="#1d2a5b" textLength="66.5" lengthAdjust="spacingAndGlyphs">Kappa</text>
<!-- Harinera del Valle -->
<circle cx="976.2" cy="1958.5" r="14" fill="#fff" stroke="#2a4b9b" stroke-width="2.1"/>
<text x="967.3" y="1963.8" font-family="Liberation Sans, sans-serif" font-size="17.5" fill="#2a4b9b" textLength="18.6" lengthAdjust="spacingAndGlyphs" stroke="#2a4b9b" stroke-width="0.4">hv</text>
<text x="997" y="1963.8" font-family="Liberation Sans, sans-serif" font-size="17" fill="#2a4b9b" textLength="121" lengthAdjust="spacingAndGlyphs">harinera del valle</text>
<text x="1024.3" y="1974.3" font-family="Liberation Sans, sans-serif" font-size="7.4" fill="#2a4b9b" textLength="66" lengthAdjust="spacingAndGlyphs">Sabe de alimentos</text>

<text x="553.7" y="2085.6" font-size="25.5" font-family="DejaVu Sans, Liberation Sans, sans-serif" font-weight="200" stroke="#111" stroke-width="0.35" word-spacing="-0.08em" fill="#111" textLength="640.8" lengthAdjust="spacingAndGlyphs" >Fuente: Dane, Supersociedades, Invest Pacific / Gráfico: LR-ST</text>
</svg>
</body></html>
